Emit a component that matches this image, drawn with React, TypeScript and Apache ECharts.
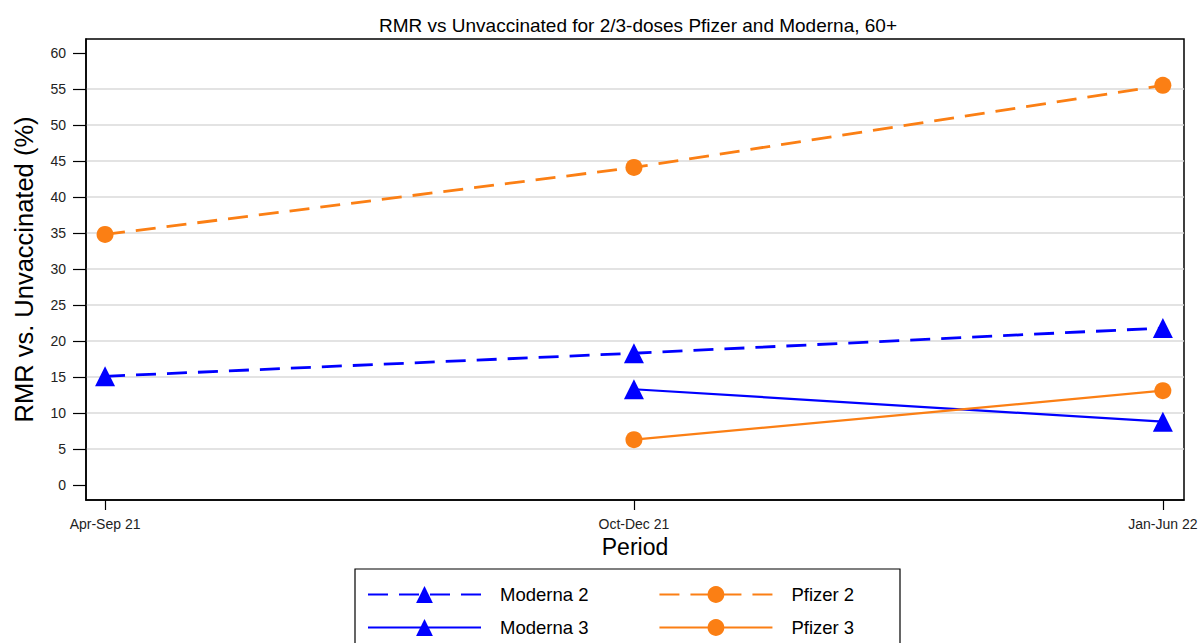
import React, { useEffect, useRef } from "react";
import * as echarts from "echarts";

const periods = ["Apr-Sep 21", "Oct-Dec 21", "Jan-Jun 22"];
const moderna2: (number | null)[] = [15.1, 18.3, 21.8];
const pfizer2: (number | null)[] = [34.8, 44.1, 55.5];
const moderna3: (number | null)[] = [null, 13.3, 8.8];
const pfizer3: (number | null)[] = [null, 6.3, 13.1];
const yTicks = [0, 5, 10, 15, 20, 25, 30, 35, 40, 45, 50, 55, 60];
const gridValues = [5, 10, 15, 20, 25, 30, 35, 40, 45, 50, 55];

const BLUE = "#0000ff";
const ORANGE = "#fb7f14";
const FONT = "Liberation Sans, Arial, sans-serif";

function toPairs(vals: (number | null)[]) {
  const out: number[][] = [];
  vals.forEach((v, i) => {
    if (v !== null) out.push([i, v]);
  });
  return out;
}

export default function App() {
  const ref = useRef<HTMLDivElement>(null);
  useEffect(() => {
    if (!ref.current) return;
    const chart = echarts.init(ref.current, undefined, { renderer: "svg" });
    const mkSeries = (name: string, vals: (number | null)[], color: string, dashed: boolean, symbol: string, size: number, extra: any = {}) => ({
      name,
      type: "line",
      data: toPairs(vals),
      symbol,
      symbolSize: size,
      lineStyle: { color, width: dashed ? 2.8 : 2.2, type: dashed ? [20, 11] : "solid" },
      itemStyle: { color },
      ...extra,
    });
    const legendCommon = {
      left: 362,
      orient: "horizontal",
      itemWidth: 113,
      itemHeight: 21,
      itemGap: 70,
      textStyle: { fontSize: 18.5, color: "#000", fontFamily: FONT, padding: [0, 0, 0, 14] },
    };
    chart.setOption({
      animation: false,
      textStyle: { fontFamily: FONT },
      title: {
        text: "RMR vs Unvaccinated for 2/3-doses Pfizer and Moderna, 60+",
        left: 633,
        textAlign: "center",
        top: 11,
        textStyle: { fontSize: 19, fontWeight: "normal", color: "#000", fontFamily: FONT },
      },
      grid: {
        left: 86,
        right: 18,
        top: 39,
        bottom: 143,
        show: true,
        borderColor: "#000",
        borderWidth: 1.5,
        backgroundColor: "#fff",
      },
      xAxis: {
        type: "value",
        min: -0.036,
        max: 2.04,
        name: "Period",
        nameLocation: "middle",
        nameGap: 28,
        nameTextStyle: { fontSize: 23, color: "#000", fontFamily: FONT, verticalAlign: "top" },
        axisLine: { show: true, onZero: false, lineStyle: { color: "#000", width: 1.5 } },
        axisTick: { show: true, customValues: [0, 1, 2], length: 10, lineStyle: { color: "#000", width: 1.2 } },
        axisLabel: {
          customValues: [0, 1, 2],
          formatter: (v: number) => periods[Math.round(v)] ?? "",
          fontSize: 14,
          color: "#222",
          margin: 17,
          fontFamily: FONT,
        },
        splitLine: { show: false },
      },
      yAxis: {
        type: "value",
        min: -2.08,
        max: 61.94,
        name: "RMR vs. Unvaccinated (%)",
        nameLocation: "middle",
        nameGap: 49,
        nameTextStyle: { fontSize: 25.5, color: "#000", fontFamily: FONT },
        axisLine: { show: true, onZero: false, lineStyle: { color: "#000", width: 1.5 } },
        axisTick: { show: true, customValues: yTicks, length: 13, lineStyle: { color: "#000", width: 1.2 } },
        axisLabel: { customValues: yTicks, fontSize: 14, color: "#222", margin: 20, fontFamily: FONT },
        splitLine: { show: false },
      },
      legend: [
        { ...legendCommon, data: ["Moderna 2", "Pfizer 2"], top: 580 },
        { ...legendCommon, data: ["Moderna 3", "Pfizer 3"], top: 613 },
      ],
      graphic: [
        {
          type: "rect",
          shape: { x: 355, y: 569, width: 545, height: 90 },
          style: { fill: "none", stroke: "#000", lineWidth: 1.2 },
          silent: true,
        },
      ],
      series: [
        mkSeries("Moderna 2", moderna2, BLUE, true, "triangle", 20, {
          markLine: {
            silent: true,
            symbol: "none",
            label: { show: false },
            lineStyle: { color: "#dadada", width: 1.5, type: "solid" },
            data: gridValues.map((v) => ({ yAxis: v })),
            z: 0,
          },
        }),
        mkSeries("Pfizer 2", pfizer2, ORANGE, true, "circle", 17),
        mkSeries("Moderna 3", moderna3, BLUE, false, "triangle", 20),
        mkSeries("Pfizer 3", pfizer3, ORANGE, false, "circle", 17),
      ],
    });
    return () => chart.dispose();
  }, []);
  return (
    <div
      ref={ref}
      style={{ position: "fixed", left: 0, top: 0, width: 1202, height: 643, background: "#fff" }}
    />
  );
}
